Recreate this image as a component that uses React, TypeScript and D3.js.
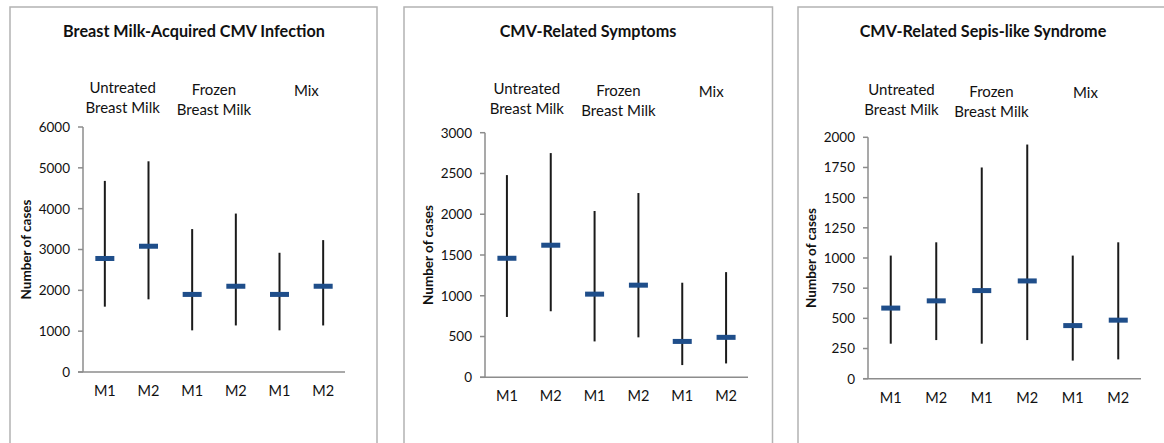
import * as d3 from "d3";

// categories and group headings shared by all three panels
const categories = ["M1", "M2", "M1", "M2", "M1", "M2"];
const groupNames = [["Untreated", "Breast Milk"], ["Frozen", "Breast Milk"], ["Mix"]];
const panelTitles = [
  "Breast Milk-Acquired CMV Infection",
  "CMV-Related Symptoms",
  "CMV-Related Sepis-like Syndrome",
];

// panel 1: breast milk-acquired infection
const infectionMean = [2780, 3080, 1900, 2100, 1900, 2100];
const infectionHigh = [4680, 5160, 3500, 3880, 2920, 3230];
const infectionLow = [1600, 1780, 1020, 1140, 1020, 1140];
const infectionTicks = [0, 1000, 2000, 3000, 4000, 5000, 6000];

// panel 2: symptoms
const symptomsMean = [1460, 1620, 1020, 1130, 440, 490];
const symptomsHigh = [2480, 2750, 2040, 2260, 1160, 1290];
const symptomsLow = [740, 810, 440, 490, 150, 170];
const symptomsTicks = [0, 500, 1000, 1500, 2000, 2500, 3000];

// panel 3: sepsis-like syndrome
const sepsisMean = [585, 645, 730, 810, 440, 485];
const sepsisHigh = [1020, 1130, 1750, 1940, 1020, 1130];
const sepsisLow = [290, 320, 290, 320, 150, 160];
const sepsisTicks = [0, 250, 500, 750, 1000, 1250, 1500, 1750, 2000];

const FONT = "Lato, 'Open Sans', sans-serif";
const AXIS = "#8c8c8c";
const BLUE = "#1f4e8a";

type PanelProps = {
  title: string;
  mean: number[];
  high: number[];
  low: number[];
  ticks: number[];
  box: { x0: number; x1: number; y0: number };
  axis: { left: number; right: number; top: number; bottom: number };
  titleX: number;
  labelDx: number[];
  labelY: number[];
};

function Panel(p: PanelProps) {
  const { axis } = p;
  const x = d3
    .scaleBand<number>()
    .domain(d3.range(categories.length))
    .range([axis.left, axis.right]);
  const cx = (i: number) => (x(i) ?? 0) + x.bandwidth() / 2;
  const y = d3
    .scaleLinear()
    .domain([0, d3.max(p.ticks) as number])
    .range([axis.bottom, axis.top]);

  return (
    <g fontFamily={FONT} fill="#111">
      {/* panel frame */}
      <path
        d={`M${p.box.x0},460 V${p.box.y0} H${p.box.x1} V460`}
        fill="none"
        stroke="#b3b3b3"
        strokeWidth={1.5}
      />
      <text x={p.titleX} y={37} textAnchor="middle" fontSize={16.2} fontWeight="bold">
        {p.title}
      </text>

      {groupNames.map((lines, g) => {
        const gx = (cx(g * 2) + cx(g * 2 + 1)) / 2 + p.labelDx[g];
        return (
          <text key={g} x={gx} y={p.labelY[g]} textAnchor="middle" fontSize={15}>
            {lines.map((l, k) => (
              <tspan key={k} x={gx} dy={k === 0 ? 0 : 20}>
                {l}
              </tspan>
            ))}
          </text>
        );
      })}

      {/* axes */}
      <line x1={axis.left} x2={axis.left} y1={y(d3.max(p.ticks) as number)} y2={axis.bottom} stroke={AXIS} strokeWidth={1.5} />
      <line x1={axis.left - 5} x2={axis.right} y1={axis.bottom} y2={axis.bottom} stroke={AXIS} strokeWidth={1.5} />
      {p.ticks.map((t) => (
        <g key={t}>
          <line x1={axis.left - 5} x2={axis.left} y1={y(t)} y2={y(t)} stroke={AXIS} strokeWidth={1.5} />
          <text x={axis.left - 13} y={y(t)} dy="0.36em" textAnchor="end" fontSize={13.5}>
            {t}
          </text>
        </g>
      ))}
      <text
        transform={`translate(${axis.left - 57},${(axis.top + axis.bottom) / 2}) rotate(-90)`}
        textAnchor="middle"
        dy="0.36em"
        fontSize={13.5}
        fontWeight="bold"
      >
        Number of cases
      </text>

      {categories.map((c, i) => (
        <text key={i} x={cx(i)} y={axis.bottom + 24} textAnchor="middle" fontSize={14.5}>
          {c}
        </text>
      ))}

      {/* high-low bars with mean markers */}
      {p.mean.map((m, i) => (
        <g key={i}>
          <line x1={cx(i)} x2={cx(i)} y1={y(p.high[i])} y2={y(p.low[i])} stroke="#1a1a1a" strokeWidth={2} />
          <rect x={cx(i) - 9.5} y={y(m) - 2.5} width={19} height={5} fill={BLUE} />
        </g>
      ))}
    </g>
  );
}

export default function App() {
  return (
    <svg
      width={1164}
      height={443}
      style={{ position: "absolute", left: 0, top: 0, background: "#fff" }}
    >
      <Panel
        title={panelTitles[0]}
        mean={infectionMean}
        high={infectionHigh}
        low={infectionLow}
        ticks={infectionTicks}
        box={{ x0: 10, x1: 377, y0: 7 }}
        axis={{ left: 83, right: 345, top: 127, bottom: 372 }}
        titleX={194}
        labelDx={[-4, 0, 5]}
        labelY={[93, 95, 96]}
      />
      <Panel
        title={panelTitles[1]}
        mean={symptomsMean}
        high={symptomsHigh}
        low={symptomsLow}
        ticks={symptomsTicks}
        box={{ x0: 404, x1: 772.5, y0: 7 }}
        axis={{ left: 485, right: 748, top: 132.7, bottom: 377.3 }}
        titleX={588}
        labelDx={[-2, 2, 7]}
        labelY={[94, 95.7, 96.7]}
      />
      <Panel
        title={panelTitles[2]}
        mean={sepsisMean}
        high={sepsisHigh}
        low={sepsisLow}
        ticks={sepsisTicks}
        box={{ x0: 798, x1: 1175, y0: 7 }}
        axis={{ left: 868, right: 1141, top: 137.3, bottom: 378.7 }}
        titleX={983}
        labelDx={[-12, -13, -10]}
        labelY={[95, 96.7, 97.7]}
      />
    </svg>
  );
}
